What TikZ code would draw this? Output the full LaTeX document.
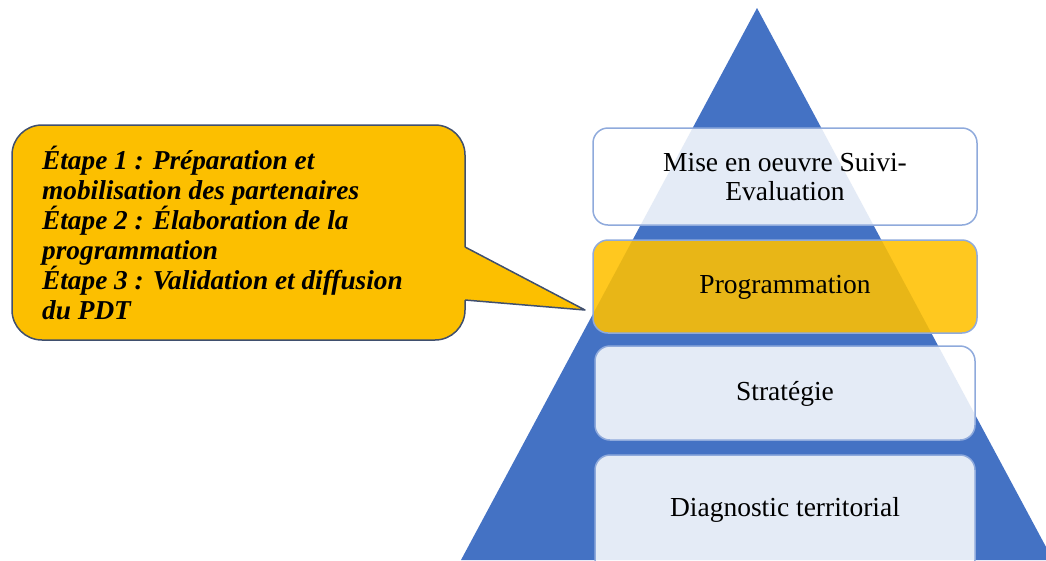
\documentclass[tikz,border=0pt]{standalone}
\usepackage{fontspec}
\setmainfont{Liberation Serif}
\definecolor{triblue}{HTML}{4472C4}
\definecolor{boxline}{HTML}{8FAADC}
\definecolor{amber}{HTML}{FCBF00}
\definecolor{calloutline}{HTML}{3F4F6E}
\definecolor{boxyellow}{HTML}{FFC000}
\tikzset{
  tier/.style={draw=boxline, line width=1.5pt, rounded corners=15pt, fill=white, fill opacity=0.86, text opacity=1, align=center, font=\fontsize{27.5}{29}\selectfont, inner sep=0pt},
  tieryellow/.style={tier, fill=boxyellow, fill opacity=0.88, draw=boxline},
  tiertext/.style={font=\fontsize{27.5}{29}\selectfont, inner sep=0pt, align=center},
  callout/.style={draw=calloutline, line width=1.5pt, fill=amber, rounded corners=30pt, inner sep=0pt},
  callouttext/.style={font=\fontsize{27.3}{30}\selectfont\bfseries\itshape, align=left, inner sep=0pt, anchor=north west}
}
\begin{document}
\begin{tikzpicture}[x=1pt,y=-1pt]
\useasboundingbox (0,0) rectangle (1046,560);
\clip (0,0) rectangle (1046,560);
% pyramid
\coordinate (apex) at (757,8);
\coordinate (bl) at (461,560);
\coordinate (br) at (1053,560);
\fill[triblue] (apex) -- (bl) -- (br) -- cycle;
% tiers
\node[tier, minimum width=384pt, minimum height=97pt] (t1) at (785,176.5) {};
\node[tiertext] (t1label) at (785,177) {Mise en oeuvre Suivi-\\Evaluation};
\node[tieryellow, minimum width=384pt, minimum height=93pt] (t2) at (785,286.5) {};
\node[tiertext] (t2label) at (785,287) {Programmation};
\node[tier, minimum width=380pt, minimum height=94pt] (t3) at (785,393) {};
\node[tiertext] (t3label) at (785,394) {Stratégie};
\node[tier, minimum width=380pt, minimum height=120pt] (t4) at (785,515) {};
\node[tiertext] (t4label) at (785,510) {Diagnostic territorial};
% callout
\node[callout, minimum width=453pt, minimum height=215pt] (call) at (238.5,232.5) {};
\node[callouttext] (calltext) at (42,146) {Étape 1 : Préparation et\\
mobilisation des partenaires\\
Étape 2 : Élaboration de la\\
programmation\\
Étape 3 : Validation et diffusion\\
du PDT};
\coordinate (ptop) at (465,247);
\coordinate (pbot) at (465,300);
\coordinate (ptip) at (585,310);
\fill[amber] ([xshift=-8pt]ptop) -- (ptop) -- (ptip) -- (pbot) -- ([xshift=-8pt]pbot) -- cycle;
\draw[calloutline, line width=1.5pt, line join=round] (ptop) -- (ptip) -- (pbot);
\end{tikzpicture}
\end{document}
